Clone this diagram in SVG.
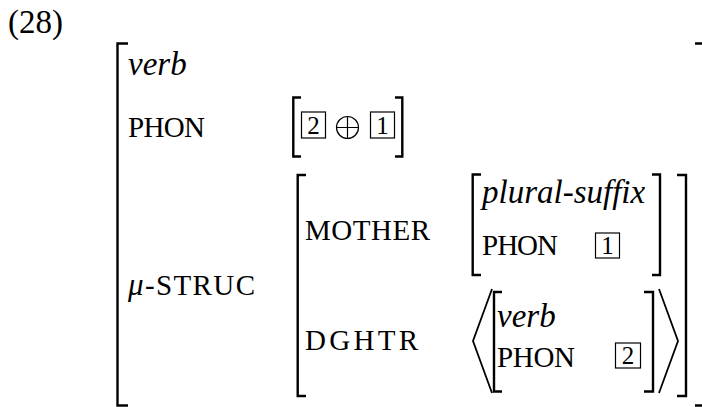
<svg xmlns="http://www.w3.org/2000/svg" width="702" height="407" viewBox="0 0 702 407">
  <style>
    .t { font-family: "Liberation Serif", "Times New Roman", serif; fill: #000; }
    .it { font-size: 33px; font-style: italic; }
    .rm { font-size: 33px; }
    .sc { font-size: 29px; }
    .tag { font-family: "Liberation Serif", "Times New Roman", serif; font-size: 25px; fill: #000; text-anchor: middle; }
    .br { fill: none; stroke: #000; stroke-width: 2.4; }
    .ang { fill: none; stroke: #000; stroke-width: 1.8; }
    .bx { fill: none; stroke: #000; stroke-width: 1.2; }
  </style>
  <rect width="702" height="407" fill="#fff"/>

  <!-- example number -->
  <text class="t rm" x="8" y="33">(28)</text>

  <!-- outer feature structure -->
  <g id="outer">
    <path class="br" d="M128,43.5 H117.5 V405.5 H128"/>
    <path class="br" d="M695,43.5 H703 M695,405.5 H703"/>
    <text class="t it" x="128" y="75">verb</text>
    <text class="t sc" x="128" y="137" textLength="77" lengthAdjust="spacing">PHON</text>
    <text class="t sc" x="128" y="295" textLength="127" lengthAdjust="spacing"><tspan font-style="italic" font-size="31px">μ</tspan>-STRUC</text>
  </g>

  <!-- PHON value: [2] ⊕ [1] -->
  <g id="phon-value">
    <path class="br" d="M301,97.5 H293.3 V156.5 H301"/>
    <rect class="bx" x="301.5" y="112" width="24" height="26"/>
    <text class="tag" x="313.5" y="134">2</text>
    <circle class="bx" cx="347.5" cy="127.5" r="11"/>
    <path class="bx" d="M336.5,127.5 H358.5 M347.5,116.5 V138.5"/>
    <rect class="bx" x="370.5" y="112" width="24" height="26"/>
    <text class="tag" x="382.5" y="134">1</text>
    <path class="br" d="M395,97.5 H402.3 V156.5 H395"/>
  </g>

  <!-- μ-STRUC value -->
  <g id="mu-struc">
    <path class="br" d="M306,175 H297.7 V396 H306"/>
    <path class="br" d="M677,175 H686 V396 H677"/>
    <text class="t sc" x="305" y="240" textLength="125" lengthAdjust="spacing">MOTHER</text>
    <text class="t sc" x="305" y="350" textLength="113" lengthAdjust="spacing">DGHTR</text>
  </g>

  <!-- MOTHER value -->
  <g id="mother">
    <path class="br" d="M481,174.5 H472.7 V275 H481"/>
    <path class="br" d="M652,174.5 H660 V275 H652"/>
    <text class="t it" x="482" y="203">plural-suffix</text>
    <text class="t sc" x="482" y="255" textLength="76" lengthAdjust="spacing">PHON</text>
    <rect class="bx" x="595.5" y="233" width="24" height="25"/>
    <text class="tag" x="607.5" y="254">1</text>
  </g>

  <!-- DGHTR value: list of one element -->
  <g id="dghtr">
    <path class="ang" d="M492,289 L473,341 L492,393"/>
    <path class="br" d="M502,292 H494 V391.5 H502"/>
    <text class="t it" x="497" y="327">verb</text>
    <text class="t sc" x="497" y="367" textLength="78" lengthAdjust="spacing">PHON</text>
    <rect class="bx" x="615.5" y="343" width="25" height="25"/>
    <text class="tag" x="628" y="364">2</text>
    <path class="br" d="M644,292 H653 V391.5 H644"/>
    <path class="ang" d="M659,289 L678,341 L659,393"/>
  </g>
</svg>
